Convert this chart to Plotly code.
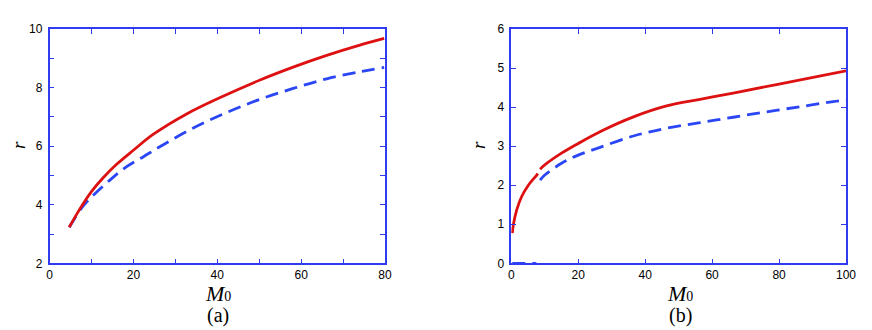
import plotly.graph_objects as go

# panel (a)
a_m0 = [4.7, 6.5, 8.1, 10, 12.8, 16, 20, 24.7, 32.7, 40.7, 50.2, 58.1, 66.1, 74, 79.8]
a_red = [3.23, 3.68, 4.05, 4.45, 4.92, 5.38, 5.86, 6.40, 7.10, 7.66, 8.26, 8.70, 9.10, 9.45, 9.68]
a_blue_m0 = [4.7, 7.3, 8.9, 14.4, 18.4, 22.4, 26.3, 34.3, 42.3, 50.2, 58.1, 66.1, 74, 79.8]
a_blue = [3.23, 3.82, 4.10, 4.84, 5.30, 5.64, 5.98, 6.62, 7.15, 7.60, 7.97, 8.30, 8.54, 8.69]

# panel (b)
b_red_low_m0 = [0.3, 0.6, 1.6, 3.1, 5.1, 7.6, 7.9]
b_red_low = [0.77, 0.98, 1.36, 1.71, 2.0, 2.26, 2.3]
b_red_m0 = [8.6, 10, 15, 20, 26.5, 36.5, 46.4, 56.4, 66.3, 80, 100]
b_red = [2.41, 2.52, 2.82, 3.07, 3.37, 3.75, 4.03, 4.20, 4.36, 4.59, 4.93]
b_blue_low_m0 = [0.3, 7.5]
b_blue_low = [0.0, 0.0]
b_blue_m0 = [8.6, 10, 15, 20, 26.5, 36.5, 46.4, 56.4, 66.3, 76.3, 86.3, 96.2, 100]
b_blue = [2.13, 2.26, 2.56, 2.77, 2.97, 3.26, 3.46, 3.60, 3.74, 3.88, 4.01, 4.14, 4.18]

RED = "#dd1111"
BLUE = "#2a46f5"
AXIS = "#2f3cf0"
# the page body adds an 8px margin, so the figure starts 8px in from the window corner;
# every position below is taken from the reference minus 8px
W, H = 864, 322
OFF = 8


def px(x):
    return (x - OFF) / W


def py(y):
    return 1 - (y - OFF) / H


fig = go.Figure()

red_line = dict(color=RED, width=2.8)
blue_line = dict(color=BLUE, width=2.8, dash="13px,7px")

fig.add_trace(go.Scatter(x=a_blue_m0, y=a_blue, mode="lines", line=blue_line, line_shape="spline", xaxis="x", yaxis="y"))
fig.add_trace(go.Scatter(x=a_m0, y=a_red, mode="lines", line=red_line, line_shape="spline", xaxis="x", yaxis="y"))

fig.add_trace(go.Scatter(x=b_blue_low_m0, y=b_blue_low, mode="lines", line=blue_line, xaxis="x2", yaxis="y2"))
fig.add_trace(go.Scatter(x=b_blue_m0, y=b_blue, mode="lines", line=blue_line, line_shape="spline", xaxis="x2", yaxis="y2"))
fig.add_trace(go.Scatter(x=b_red_low_m0, y=b_red_low, mode="lines", line=red_line, line_shape="spline", xaxis="x2", yaxis="y2"))
fig.add_trace(go.Scatter(x=b_red_m0, y=b_red, mode="lines", line=red_line, line_shape="spline", xaxis="x2", yaxis="y2"))

tickfont = dict(family="Liberation Sans, Arial, sans-serif", size=12, color="black")
common = dict(
    showline=True, linecolor=AXIS, linewidth=1.5, mirror="ticks",
    ticks="inside", ticklen=5, tickwidth=1.2, tickcolor=AXIS,
    showgrid=False, zeroline=False, tickfont=tickfont, automargin=False,
)
minor = dict(ticks="inside", ticklen=5, tickwidth=1.2, tickcolor=AXIS, showgrid=False)

ydom = [py(263.3), py(29)]
fig.update_layout(
    width=W, height=H, autosize=False,
    margin=dict(l=0, r=0, t=0, b=0, pad=0, autoexpand=False),
    paper_bgcolor="white", plot_bgcolor="white",
    showlegend=False,
    xaxis=dict(domain=[px(49.5), px(385)], range=[0, 80], dtick=20, minor=dict(dtick=10, **minor), anchor="y", **common),
    yaxis=dict(domain=ydom, range=[2, 10], dtick=2, minor=dict(dtick=1, **minor), anchor="x",
               ticklabelstandoff=3, **common),
    xaxis2=dict(domain=[px(511.3), px(846)], range=[0, 100], dtick=20, anchor="y2", **common),
    yaxis2=dict(domain=ydom, range=[0, 6], dtick=1, anchor="x2", ticklabelstandoff=3, **common),
)

serif = "Liberation Serif, Times New Roman, serif"
m0 = "<i>M</i><span style='font-size:14px'>0</span>"
for cx, ry, lab in [(218, 18, "(a)"), (680, 478, "(b)")]:
    fig.add_annotation(x=px(cx), y=py(293), xref="paper", yref="paper", text=m0, showarrow=False,
                       xanchor="center", yanchor="middle", font=dict(family=serif, size=22, color="black"))
    fig.add_annotation(x=px(cx), y=py(315), xref="paper", yref="paper", text=lab, showarrow=False,
                       xanchor="center", yanchor="middle", font=dict(family=serif, size=20, color="black"))
    fig.add_annotation(x=px(ry), y=py(145), xref="paper", yref="paper", text="<i>r</i>", showarrow=False,
                       xanchor="center", yanchor="middle", textangle=-90, borderpad=0,
                       font=dict(family=serif, size=19, color="black"))

fig.write_html("out.html")
